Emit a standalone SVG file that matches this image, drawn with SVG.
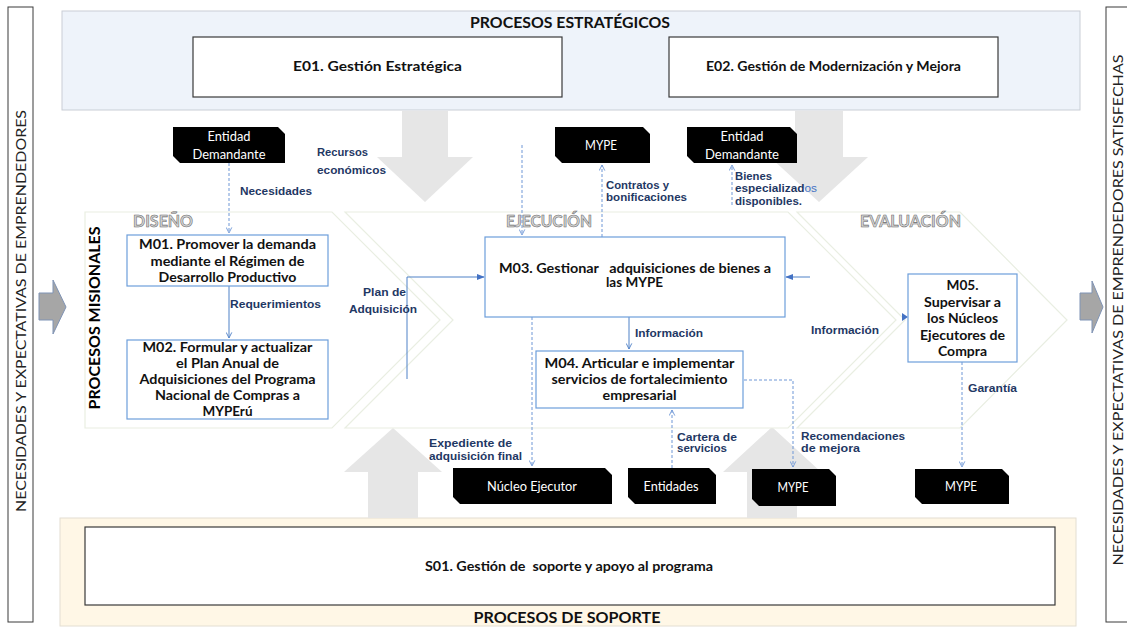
<svg xmlns="http://www.w3.org/2000/svg" width="1127" height="628" viewBox="0 0 1127 628">
<defs>
<style>
.band-s{fill:#EEF3FA;stroke:#C9CED6;stroke-width:1}
.band-p{fill:#FFF7E6;stroke:#E3DED2;stroke-width:1}
.ebox{fill:#FFFFFF;stroke:#3A3A3A;stroke-width:1.2}
.mbox{fill:#FFFFFF;stroke:#6D9EDB;stroke-width:1.2}
.blk{fill:#000000}
.garrow{fill:#E6E6E6}
.sarrow{fill:#A6A6A6;stroke:#7F93B5;stroke-width:1}
.chev{fill:#FFFFFF;stroke:#E9EEE2;stroke-width:1.2}
.side{fill:#FFFFFF;stroke:#3A3A3A;stroke-width:1}
.t-title{font-family:Lato,"Liberation Sans",sans-serif;font-weight:700;font-size:16px;fill:#111;text-anchor:middle}
.t-e{font-family:Lato,"Liberation Sans",sans-serif;font-weight:700;font-size:14px;fill:#111;text-anchor:middle}
.t-m{font-family:Lato,"Liberation Sans",sans-serif;font-weight:700;font-size:13.5px;fill:#111;text-anchor:middle}
.t-b{font-family:Lato,"Liberation Sans",sans-serif;font-size:13px;fill:#FFFFFF;text-anchor:middle}
.t-sec{font-family:Lato,"Liberation Sans",sans-serif;font-weight:700;font-size:17px;fill:#D6D6D6;stroke:#6A6A6A;stroke-width:0.6}
.t-side{font-family:Lato,"Liberation Sans",sans-serif;font-size:14px;fill:#222;text-anchor:middle}
.t-mis{font-family:Lato,"Liberation Sans",sans-serif;font-weight:700;font-size:16px;fill:#000;text-anchor:middle}
.lbl{font-family:"Liberation Sans Narrow","Liberation Sans",sans-serif;font-size:10.5px;font-weight:700;fill:#1F3864}
.cs{fill:none;stroke:#4F81C7;stroke-width:1}
.cd{fill:none;stroke:#6E97D6;stroke-width:1;stroke-dasharray:3 2}
</style>
<marker id="openD" viewBox="0 0 10 10" refX="9" refY="5" markerWidth="7" markerHeight="7" orient="auto" markerUnits="userSpaceOnUse">
<path d="M1,1 L9,5 L1,9" fill="none" stroke="#6E97D6" stroke-width="1.3"/>
</marker>
<marker id="openS" viewBox="0 0 10 10" refX="9" refY="5" markerWidth="7" markerHeight="7" orient="auto" markerUnits="userSpaceOnUse">
<path d="M1,1 L9,5 L1,9" fill="none" stroke="#4F81C7" stroke-width="1.3"/>
</marker>
<marker id="fill" viewBox="0 0 10 10" refX="9" refY="5" markerWidth="8" markerHeight="8" orient="auto" markerUnits="userSpaceOnUse">
<path d="M0,1 L10,5 L0,9 Z" fill="#4472C4"/>
</marker>
</defs>

<!-- side boxes -->
<g id="side-left">
<rect class="side" x="8" y="7" width="25" height="615"/>
<text class="t-side" transform="translate(26,311) rotate(-90)" textLength="402" lengthAdjust="spacingAndGlyphs">NECESIDADES Y EXPECTATIVAS DE EMPRENDEDORES</text>
</g>
<g id="side-right">
<rect class="side" x="1106" y="7" width="30" height="615"/>
<text class="t-side" transform="translate(1123,310) rotate(-90)" textLength="511" lengthAdjust="spacingAndGlyphs">NECESIDADES Y EXPECTATIVAS DE EMPRENDEDORES SATISFECHAS</text>
</g>
<g id="arrow-in"><path class="sarrow" d="M39,293 H53 V280 L66,307 L53,334 V320 H39 Z"/></g>
<g id="arrow-out"><path class="sarrow" d="M1080,293 H1092 V281 L1103,307 L1092,333 V320 H1080 Z"/></g>

<!-- bands -->
<g id="estrategicos">
<rect class="band-s" x="62" y="11" width="1018" height="99"/>
<text class="t-title" x="570" y="28" textLength="200" lengthAdjust="spacingAndGlyphs">PROCESOS ESTRATÉGICOS</text>
</g>
<g id="soporte">
<rect class="band-p" x="60" y="518" width="1016" height="108"/>
<text class="t-title" x="567" y="623" textLength="187" lengthAdjust="spacingAndGlyphs">PROCESOS DE SOPORTE</text>
</g>

<!-- big gray arrows -->
<g id="big-arrows">
<path class="garrow" d="M402,111 H448 V157 H473 L425,202 L377,157 H402 Z"/>
<path class="garrow" d="M795,111 H843 V157 H868 L819,202 L770,157 H795 Z"/>
<path class="garrow" d="M368,518 V472 H344 L393,428 L442,472 H418 V518 Z"/>
<path class="garrow" d="M747,518 V472 H723 L772,427 L821,472 H797 V518 Z"/>
</g>

<!-- misionales chevrons -->
<g id="misionales">
<path class="chev" d="M85,212 H332 L440,320 L332,428 H85 Z"/>
<path class="chev" d="M345,212 H788 L896,320 L788,428 H345 L453,320 Z"/>
<path class="chev" d="M797,212 H960 L1067,320 L960,428 H797 L905,320 Z"/>
<text class="t-mis" transform="translate(100,318) rotate(-90)" textLength="183" lengthAdjust="spacingAndGlyphs">PROCESOS MISIONALES</text>
<text class="t-sec" x="133" y="227" textLength="60" lengthAdjust="spacingAndGlyphs">DISEÑO</text>
<text class="t-sec" x="506" y="227" textLength="86" lengthAdjust="spacingAndGlyphs">EJECUCIÓN</text>
<text class="t-sec" x="860" y="227" textLength="101" lengthAdjust="spacingAndGlyphs">EVALUACIÓN</text>
</g>

<!-- strategic nodes -->
<g id="E01">
<rect class="ebox" x="193" y="37" width="369" height="60"/>
<text class="t-e" x="377.5" y="71" textLength="169" lengthAdjust="spacingAndGlyphs">E01. Gestión Estratégica</text>
</g>
<g id="E02">
<rect class="ebox" x="669" y="37" width="329" height="60"/>
<text class="t-e" x="833.5" y="71" textLength="255" lengthAdjust="spacingAndGlyphs">E02. Gestión de Modernización y Mejora</text>
</g>
<g id="S01">
<rect class="ebox" x="85" y="527" width="970" height="78"/>
<text class="t-m" x="569" y="571" xml:space="preserve" textLength="288" lengthAdjust="spacingAndGlyphs">S01. Gestión de  soporte y apoyo al programa</text>
</g>

<!-- connectors -->
<g id="connectors">
<path class="cd" d="M229,163 V233" marker-end="url(#openD)"/>
<path class="cs" d="M229,286 V338" marker-end="url(#openS)"/>
<path class="cd" d="M522,145 V235" marker-end="url(#openD)"/>
<path class="cd" d="M602,237 V165" marker-end="url(#openD)"/>
<path class="cd" d="M732,205 V165" marker-end="url(#openD)"/>
<path class="cs" d="M407,379 V277 H484" marker-end="url(#fill)"/>
<path class="cs" d="M629,317 V349" marker-end="url(#openS)"/>
<path class="cs" d="M810,277 H786" marker-end="url(#fill)"/>
<path d="M902,313 L908,317 L902,321 Z" fill="#4472C4"/>
<path class="cd" d="M962,362 V467" marker-end="url(#openD)"/>
<path class="cd" d="M532,317 V466" marker-end="url(#openD)"/>
<path class="cd" d="M672,468 V410" marker-end="url(#openD)"/>
<path class="cd" d="M744,380 H793 V467" marker-end="url(#openD)"/>
</g>

<!-- connector labels -->
<g id="labels">
<text class="lbl" x="317" y="155.5" textLength="51" lengthAdjust="spacingAndGlyphs">Recursos</text>
<text class="lbl" x="317" y="173.5" textLength="69" lengthAdjust="spacingAndGlyphs">económicos</text>
<text class="lbl" x="240" y="194.5" textLength="72" lengthAdjust="spacingAndGlyphs">Necesidades</text>
<text class="lbl" x="230" y="307.5" textLength="91" lengthAdjust="spacingAndGlyphs">Requerimientos</text>
<text class="lbl" x="363" y="295.5" textLength="43" lengthAdjust="spacingAndGlyphs">Plan de</text>
<text class="lbl" x="349" y="312.5" textLength="68" lengthAdjust="spacingAndGlyphs">Adquisición</text>
<text class="lbl" x="606" y="188.5" textLength="63" lengthAdjust="spacingAndGlyphs">Contratos y</text>
<text class="lbl" x="606" y="200.5" textLength="81" lengthAdjust="spacingAndGlyphs">bonificaciones</text>
<text class="lbl" x="735" y="179.5" textLength="37" lengthAdjust="spacingAndGlyphs">Bienes</text>
<text class="lbl" x="735" y="191.5" textLength="82" lengthAdjust="spacingAndGlyphs">especializad<tspan fill="#4472C4" font-weight="400">os</tspan></text>
<text class="lbl" x="735" y="204.5" textLength="67" lengthAdjust="spacingAndGlyphs">disponibles.</text>
<text class="lbl" x="635" y="336.5" textLength="68" lengthAdjust="spacingAndGlyphs">Información</text>
<text class="lbl" x="811" y="333.5" textLength="68" lengthAdjust="spacingAndGlyphs">Información</text>
<text class="lbl" x="968" y="391.5" textLength="49" lengthAdjust="spacingAndGlyphs">Garantía</text>
<text class="lbl" x="429" y="446.5" textLength="83" lengthAdjust="spacingAndGlyphs">Expediente de</text>
<text class="lbl" x="429" y="459.5" textLength="93" lengthAdjust="spacingAndGlyphs">adquisición final</text>
<text class="lbl" x="677" y="440.5" textLength="60" lengthAdjust="spacingAndGlyphs">Cartera de</text>
<text class="lbl" x="677" y="451.5" textLength="50" lengthAdjust="spacingAndGlyphs">servicios</text>
<text class="lbl" x="801" y="439.5" textLength="104" lengthAdjust="spacingAndGlyphs">Recomendaciones</text>
<text class="lbl" x="801" y="451.5" textLength="59" lengthAdjust="spacingAndGlyphs">de mejora</text>
</g>

<!-- misional nodes -->
<g id="M01">
<rect class="mbox" x="127" y="235" width="201" height="51"/>
<text class="t-m" x="227.5" y="248.5" textLength="177" lengthAdjust="spacingAndGlyphs">M01. Promover la demanda</text>
<text class="t-m" x="227.5" y="265.5" textLength="154" lengthAdjust="spacingAndGlyphs">mediante el Régimen de</text>
<text class="t-m" x="227.5" y="281.5" textLength="138" lengthAdjust="spacingAndGlyphs">Desarrollo Productivo</text>
</g>
<g id="M02">
<rect class="mbox" x="127" y="340" width="201" height="79"/>
<text class="t-m" x="227.5" y="351.5" textLength="170" lengthAdjust="spacingAndGlyphs">M02. Formular y actualizar</text>
<text class="t-m" x="227.5" y="367.5" textLength="103" lengthAdjust="spacingAndGlyphs">el Plan Anual de</text>
<text class="t-m" x="227.5" y="383.5" textLength="176" lengthAdjust="spacingAndGlyphs">Adquisiciones del Programa</text>
<text class="t-m" x="227.5" y="399.5" textLength="145" lengthAdjust="spacingAndGlyphs">Nacional de Compras a</text>
<text class="t-m" x="227.5" y="415.5" textLength="50" lengthAdjust="spacingAndGlyphs">MYPErú</text>
</g>
<g id="M03">
<rect class="mbox" x="485" y="237" width="300" height="80"/>
<text class="t-m" x="635" y="272.5" xml:space="preserve" textLength="272" lengthAdjust="spacingAndGlyphs">M03. Gestionar   adquisiciones de bienes a</text>
<text class="t-m" x="634.5" y="286.5" textLength="57" lengthAdjust="spacingAndGlyphs">las MYPE</text>
</g>
<g id="M04">
<rect class="mbox" x="536" y="351" width="207" height="57"/>
<text class="t-m" x="639.5" y="367.5" textLength="190" lengthAdjust="spacingAndGlyphs">M04. Articular e implementar</text>
<text class="t-m" x="639.5" y="383.5" textLength="176" lengthAdjust="spacingAndGlyphs">servicios de fortalecimiento</text>
<text class="t-m" x="639.5" y="399.5" textLength="74" lengthAdjust="spacingAndGlyphs">empresarial</text>
</g>
<g id="M05">
<rect class="mbox" x="908" y="274" width="109" height="88"/>
<text class="t-m" x="962.5" y="289.5" textLength="32" lengthAdjust="spacingAndGlyphs">M05.</text>
<text class="t-m" x="962.5" y="306.5" textLength="77" lengthAdjust="spacingAndGlyphs">Supervisar a</text>
<text class="t-m" x="962.5" y="322.5" textLength="71" lengthAdjust="spacingAndGlyphs">los Núcleos</text>
<text class="t-m" x="962.5" y="339.5" textLength="85" lengthAdjust="spacingAndGlyphs">Ejecutores de</text>
<text class="t-m" x="962.5" y="355.5" textLength="49" lengthAdjust="spacingAndGlyphs">Compra</text>
</g>

<!-- black actor nodes -->
<g id="entidad-demandante-1">
<path class="blk" d="M173,127 H278 L285,134 V163 H180 L173,156 Z"/>
<text class="t-b" x="229" y="140.5" textLength="43" lengthAdjust="spacingAndGlyphs">Entidad</text>
<text class="t-b" x="229" y="158.5" textLength="73" lengthAdjust="spacingAndGlyphs">Demandante</text>
</g>
<g id="mype-top">
<path class="blk" d="M555,127 H643 L650,134 V163 H562 L555,156 Z"/>
<text class="t-b" x="601" y="149.5" textLength="32" lengthAdjust="spacingAndGlyphs">MYPE</text>
</g>
<g id="entidad-demandante-2">
<path class="blk" d="M687,127 H790 L797,134 V163 H694 L687,156 Z"/>
<text class="t-b" x="742" y="140.5" textLength="43" lengthAdjust="spacingAndGlyphs">Entidad</text>
<text class="t-b" x="742" y="158.5" textLength="74" lengthAdjust="spacingAndGlyphs">Demandante</text>
</g>
<g id="nucleo-ejecutor">
<path class="blk" d="M453,468 H605 L612,475 V504 H460 L453,497 Z"/>
<text class="t-b" x="532" y="490.5" textLength="90" lengthAdjust="spacingAndGlyphs">Núcleo Ejecutor</text>
</g>
<g id="entidades">
<path class="blk" d="M628,468 H709 L716,475 V504 H635 L628,497 Z"/>
<text class="t-b" x="671" y="490.5" textLength="55" lengthAdjust="spacingAndGlyphs">Entidades</text>
</g>
<g id="mype-b1">
<path class="blk" d="M752,469 H829 L836,476 V506 H759 L752,499 Z"/>
<text class="t-b" x="793" y="491.5" textLength="31" lengthAdjust="spacingAndGlyphs">MYPE</text>
</g>
<g id="mype-b2">
<path class="blk" d="M915,469 H1002 L1009,476 V504 H922 L915,497 Z"/>
<text class="t-b" x="961" y="490.5" textLength="32" lengthAdjust="spacingAndGlyphs">MYPE</text>
</g>
</svg>
